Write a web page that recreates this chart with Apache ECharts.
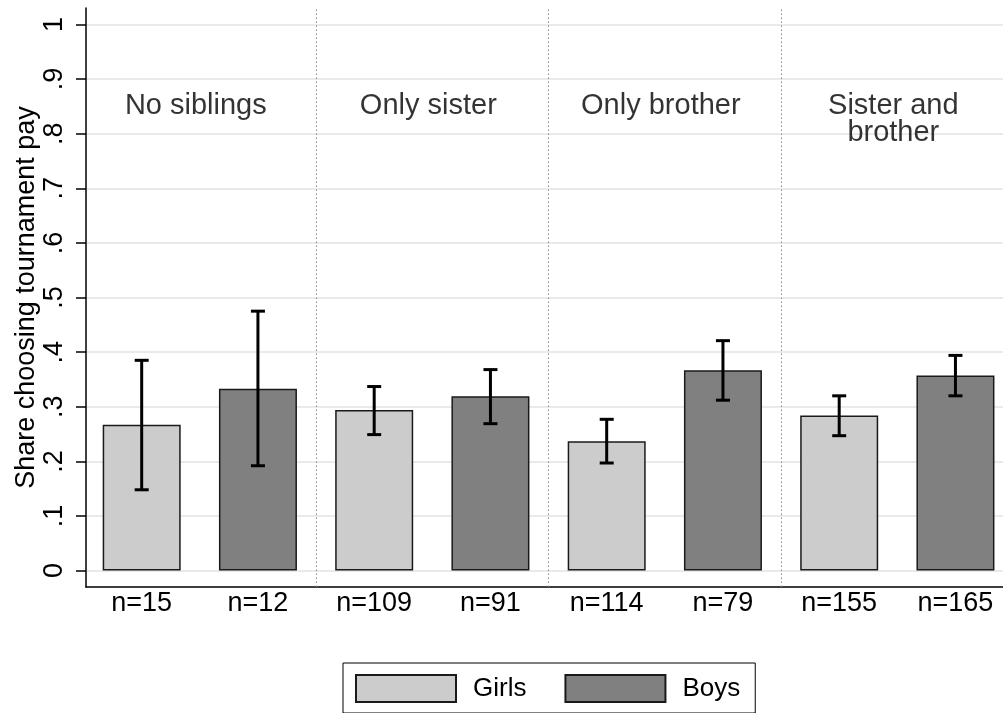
<!DOCTYPE html>
<html>
<head>
<meta charset="utf-8">
<script src="https://cdn.jsdelivr.net/npm/echarts@6/dist/echarts.min.js"></script>
<style>
  html, body { margin: 0; padding: 0; background: #fff; }
  #chart { width: 1003px; height: 713px; }
</style>
</head>
<body>
<div id="chart"></div>
<script>
// Sibling composition groups (panel headings)
const groups = ['No siblings', 'Only sister', 'Only brother', 'Sister and\nbrother'];
// Sample sizes, in bar order: girls / boys per group
const sampleSizes = [15, 12, 109, 91, 114, 79, 155, 165];
// Share choosing tournament pay
const girlsShare = [0.267, 0.294, 0.237, 0.284];
const boysShare = [0.333, 0.319, 0.367, 0.357];
// Confidence intervals [low, high]
const girlsCI = [[0.148, 0.385], [0.249, 0.337], [0.197, 0.277], [0.247, 0.320]];
const boysCI = [[0.192, 0.475], [0.269, 0.368], [0.312, 0.421], [0.320, 0.394]];
// Y tick values and labels
const yTicks = [0, 0.1, 0.2, 0.3, 0.4, 0.5, 0.6, 0.7, 0.8, 0.9, 1];
const yTickLabels = ['0', '.1', '.2', '.3', '.4', '.5', '.6', '.7', '.8', '.9', '1'];

const FONT = '"Liberation Sans", Arial, Helvetica, sans-serif';
const GIRL_COLOR = '#cccccc';
const BOY_COLOR = '#808080';

// Bar slots: girls at odd positions, boys at even positions
const girlsData = girlsShare.map((v, i) => [2 * i + 1, v]);
const boysData = boysShare.map((v, i) => [2 * i + 2, v]);
const ciData = [];
girlsCI.forEach((c, i) => ciData.push([2 * i + 1, c[0], c[1]]));
boysCI.forEach((c, i) => ciData.push([2 * i + 2, c[0], c[1]]));
const panelData = groups.map((g, i) => ({ name: g, value: [2 * i + 1.5, 0.875] }));
const separators = [2.5, 4.5, 6.5];

const chart = echarts.init(document.getElementById('chart'), null, { renderer: 'canvas' });

const option = {
  animation: false,
  backgroundColor: '#fff',
  textStyle: { fontFamily: FONT },
  grid: { left: 86, right: 0, top: 8, bottom: 126, containLabel: false, outerBoundsMode: 'none' },
  legend: {
    data: ['Girls', 'Boys'],
    left: 343,
    top: 663,
    orient: 'horizontal',
    icon: 'rect',
    itemWidth: 100,
    itemHeight: 27,
    itemGap: 38,
    padding: [11, 15, 10, 12],
    borderColor: '#000',
    borderWidth: 1,
    textStyle: { fontFamily: FONT, fontSize: 26, color: '#000', padding: [0, 0, 0, 12] }
  },
  xAxis: {
    type: 'value',
    min: 0.521,
    max: 8.409,
    axisLine: { show: true, onZero: false, lineStyle: { color: '#000', width: 1.5 } },
    axisTick: { show: false },
    splitLine: { show: false },
    axisLabel: {
      customValues: sampleSizes.map((n, i) => i + 1),
      formatter: v => 'n=' + sampleSizes[Math.round(v) - 1],
      fontFamily: FONT,
      fontSize: 27,
      color: '#000',
      margin: 3
    }
  },
  yAxis: {
    type: 'value',
    min: -0.03,
    max: 1.03,
    name: 'Share choosing tournament pay',
    nameLocation: 'middle',
    nameGap: 46,
    nameMoveOverlap: false,
    nameTextStyle: { fontFamily: FONT, fontSize: 27, color: '#000' },
    axisLine: { show: true, onZero: false, lineStyle: { color: '#000', width: 1.5 } },
    axisTick: {
      show: true, inside: false, length: 10, customValues: yTicks,
      lineStyle: { color: '#000', width: 1.5 }
    },
    axisLabel: {
      customValues: yTicks,
      formatter: v => yTickLabels[Math.round(v * 10)],
      rotate: 90,
      fontFamily: FONT,
      fontSize: 27,
      color: '#000',
      margin: 18
    },
    splitLine: { show: true, lineStyle: { color: '#eaeaea', width: 2 } }
  },
  series: [
    {
      name: 'Girls',
      type: 'bar',
      data: girlsData,
      barWidth: 78,
      barGap: '-100%',
      itemStyle: { color: GIRL_COLOR, borderColor: '#1a1a1a', borderWidth: 1.5 },
      z: 3
    },
    {
      name: 'Boys',
      type: 'bar',
      data: boysData,
      barWidth: 78,
      barGap: '-100%',
      itemStyle: { color: BOY_COLOR, borderColor: '#1a1a1a', borderWidth: 1.5 },
      z: 3
    },
    {
      name: 'CI',
      type: 'custom',
      data: ciData,
      z: 5,
      renderItem: (params, api) => {
        const x = api.value(0);
        const hi = api.coord([x, api.value(2)]);
        const lo = api.coord([x, api.value(1)]);
        const half = 7;
        const style = { stroke: '#000', lineWidth: 3 };
        return {
          type: 'group',
          children: [
            { type: 'line', shape: { x1: hi[0], y1: hi[1], x2: lo[0], y2: lo[1] }, style },
            { type: 'line', shape: { x1: hi[0] - half, y1: hi[1], x2: hi[0] + half, y2: hi[1] }, style },
            { type: 'line', shape: { x1: lo[0] - half, y1: lo[1], x2: lo[0] + half, y2: lo[1] }, style }
          ]
        };
      }
    },
    {
      name: 'Panels',
      type: 'scatter',
      data: panelData,
      symbolSize: 0,
      silent: true,
      label: {
        show: true,
        position: 'inside',
        verticalAlign: 'top',
        align: 'center',
        offset: [-4, 0],
        formatter: p => p.name,
        fontFamily: FONT,
        fontSize: 29,
        lineHeight: 27,
        color: '#000'
      },
      markLine: {
        silent: true,
        symbol: 'none',
        label: { show: false },
        lineStyle: { color: '#888', width: 1, type: [1.5, 2.5] },
        data: separators.map(x => ({ xAxis: x }))
      }
    }
  ]
};

chart.setOption(option);
</script>
</body>
</html>
